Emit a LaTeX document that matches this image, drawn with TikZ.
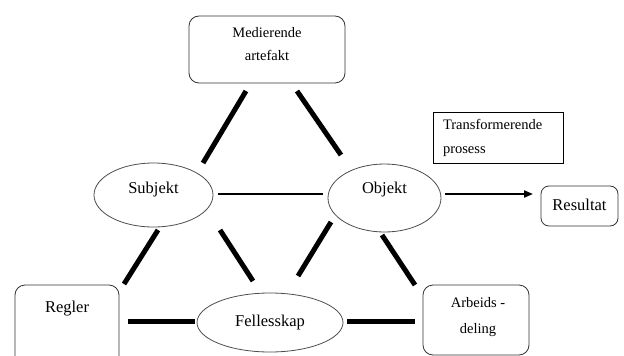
\documentclass[tikz,border=0pt]{standalone}
\usepackage{fontspec}
\setmainfont{Liberation Serif}
\usetikzlibrary{shapes.geometric,arrows.meta}
\begin{document}
\begin{tikzpicture}[x=1pt,y=-1pt,
  rbox/.style={draw=black!80, line width=0.8pt, rounded corners=10pt, inner sep=0pt},
  sbox/.style={draw=black, line width=0.8pt, inner ysep=0pt, inner xsep=10pt},
  ell/.style={ellipse, draw=black!70, line width=0.8pt, inner sep=0pt},
  big/.style={font=\fontsize{16.5}{20}\selectfont},
  small/.style={font=\fontsize{14.5}{24}\selectfont},
  link/.style={line width=5pt},
  thinlink/.style={line width=1.7pt},
  arrowlink/.style={line width=2pt, -{Triangle[length=9pt,width=7pt]}}
]
\useasboundingbox (0,0) rectangle (624,356);
\clip (0,0) rectangle (624,356);

% nodes
\node[rbox, small, minimum width=156pt, minimum height=67pt, text height=0pt, text depth=25pt] (med) at (267,49.5)
  {\begin{tabular}[t]{@{}c@{}}Medierende\\artefakt\end{tabular}};
\node[sbox, small, minimum height=51pt, text height=0pt, text depth=16pt] (trans) at (498,137.5)
  {\makebox[110pt][l]{\begin{tabular}[t]{@{}l@{}}Transformerende\\prosess\end{tabular}}};
\node[rbox, rounded corners=8pt, big, minimum width=77pt, minimum height=40pt, text height=10pt, text depth=2pt] (res) at (579.5,206) {Resultat};
\node[ell, big, minimum width=119pt, minimum height=64pt, text height=10pt, text depth=14pt] (subj) at (153.5,195) {Subjekt\hspace{17pt}};
\node[ell, big, minimum width=113pt, minimum height=68pt, text height=10pt, text depth=19.4pt] (obj) at (384.5,198) {Objekt\hspace{17pt}};
\node[ell, big, minimum width=146pt, minimum height=59pt, text height=12pt, text depth=3.6pt] (fell) at (270,322.5) {Fellesskap\hspace{14pt}};
\node[rbox, big, minimum width=104pt, minimum height=95pt, text height=0pt, text depth=40.4pt] (regl) at (67,332.5) {Regler\hspace{8pt}};
\node[rbox, small, minimum width=106pt, minimum height=70pt, text height=0pt, text depth=25.4pt] (arb) at (476,320)
  {\hspace{4pt}\begin{tabular}[t]{@{}c@{}}Arbeids -\\[2pt]deling\end{tabular}};

% connector end points
\coordinate (ms1) at (246,91);  \coordinate (ms2) at (203,163);
\coordinate (mo1) at (297,91);  \coordinate (mo2) at (341,155);
\coordinate (so1) at (218,194); \coordinate (so2) at (323,194);
\coordinate (or1) at (445,194); \coordinate (or2) at (533,194);
\coordinate (sr1) at (158,230); \coordinate (sr2) at (124,284);
\coordinate (sf1) at (220,230); \coordinate (sf2) at (253,281);
\coordinate (of1) at (331,222); \coordinate (of2) at (298,276);
\coordinate (oa1) at (382,235); \coordinate (oa2) at (415,285);
\coordinate (rf1) at (128,321); \coordinate (rf2) at (195,321);
\coordinate (fa1) at (347,321); \coordinate (fa2) at (415,321);

% connectors
\draw[link] (ms1) -- (ms2);
\draw[link] (mo1) -- (mo2);
\draw[thinlink] (so1) -- (so2);
\draw[arrowlink] (or1) -- (or2);
\draw[link] (sr1) -- (sr2);
\draw[link] (sf1) -- (sf2);
\draw[link] (of1) -- (of2);
\draw[link] (oa1) -- (oa2);
\draw[link] (rf1) -- (rf2);
\draw[link] (fa1) -- (fa2);
\end{tikzpicture}
\end{document}
